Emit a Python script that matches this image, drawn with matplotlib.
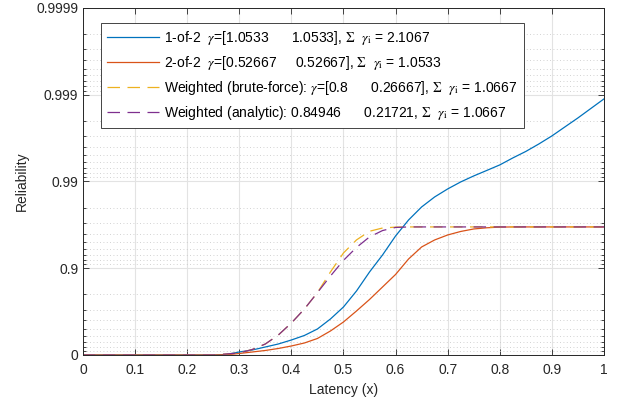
import matplotlib
matplotlib.use('Agg')
import matplotlib.pyplot as plt
from matplotlib.ticker import FixedLocator, FixedFormatter, NullFormatter
import numpy as np

plt.rcParams['font.family'] = ['Liberation Sans', 'DejaVu Sans']
plt.rcParams['mathtext.fontset'] = 'stix'

# latency grid and reliability values
latency = [0.0, 0.25, 0.275, 0.30, 0.325, 0.35, 0.375, 0.40, 0.425, 0.45, 0.475,
           0.50, 0.525, 0.55, 0.575, 0.60, 0.625, 0.65, 0.675, 0.70, 0.725,
           0.75, 0.775, 0.80, 0.825, 0.85, 0.875, 0.90, 0.925, 0.95, 0.975, 1.00]
rel_1of2 = [0.0, 0.0, 0.0132, 0.0765, 0.1243, 0.1911, 0.2534, 0.3283, 0.4043, 0.4984,
            0.6154, 0.7203, 0.8171, 0.8895, 0.92966, 0.95752, 0.97222, 0.98032, 0.98491,
            0.98780, 0.98987, 0.99136, 0.99253, 0.99355, 0.99464, 0.99549, 0.99630,
            0.99701, 0.997647, 0.998146, 0.998560, 0.998881]
rel_2of2 = [0.0, 0.0, 0.0053, 0.0390, 0.0765, 0.1128, 0.1585, 0.2125, 0.2727, 0.3546,
            0.4712, 0.5835, 0.6890, 0.7708, 0.8355, 0.8820, 0.9218, 0.9431, 0.95276,
            0.9586, 0.96229, 0.9647, 0.9658, 0.9664, 0.96656, 0.96656, 0.96656,
            0.96656, 0.96656, 0.96656, 0.96656, 0.96656]

latency_w = [0.0, 0.25, 0.275, 0.30, 0.325, 0.35, 0.375, 0.40, 0.425, 0.45, 0.475,
             0.50, 0.525, 0.55, 0.575, 0.60, 0.625, 0.70, 0.80, 0.90, 1.00]
rel_brute = [0.0, 0.0, 0.026, 0.052, 0.136, 0.253, 0.412, 0.572, 0.705, 0.809, 0.8896,
             0.9333, 0.9528, 0.9625, 0.9656, 0.9664, 0.96656, 0.96656, 0.96656, 0.96656, 0.96656]
rel_analytic = [0.0, 0.0, 0.026, 0.052, 0.136, 0.253, 0.412, 0.572, 0.705, 0.809, 0.877,
                0.9188, 0.9424, 0.9564, 0.9632, 0.9661, 0.96656, 0.96656, 0.96656, 0.96656, 0.96656]

labels = [
    r'1-of-2  $\gamma$=[1.0533      1.0533], $\Sigma$  $\gamma_{\rm i}$ = 2.1067',
    r'2-of-2  $\gamma$=[0.52667     0.52667], $\Sigma$  $\gamma_{\rm i}$ = 1.0533',
    r'Weighted (brute-force): $\gamma$=[0.8      0.26667], $\Sigma$  $\gamma_{\rm i}$ = 1.0667',
    r'Weighted (analytic): 0.84946      0.21721, $\Sigma$  $\gamma_{\rm i}$ = 1.0667',
]
y_ticks = [1, 0.1, 0.01, 0.001, 0.0001]
y_ticklabels = ['0', '0.9', '0.99', '0.999', '0.9999']
x_ticks = np.round(np.arange(0, 1.01, 0.1), 1)
x_ticklabels = ['0', '0.1', '0.2', '0.3', '0.4', '0.5', '0.6', '0.7', '0.8', '0.9', '1']

fig = plt.figure(figsize=(6.18, 4.05), dpi=100, facecolor='white')
ax = fig.add_axes([0.1343, 0.1235, 0.843, 0.857])

# "nines" scale: plot unreliability on an inverted log axis
ax.plot(latency, 1 - np.array(rel_1of2), color='#0072BD', lw=0.9)
ax.plot(latency, 1 - np.array(rel_2of2), color='#D95319', lw=0.9)
ax.plot(latency_w, 1 - np.array(rel_brute), color='#EDB120', lw=0.9, dashes=(10, 6))
ax.plot(latency_w, 1 - np.array(rel_analytic), color='#7E2F8E', lw=0.9, dashes=(10, 6))

ax.set_yscale('log')
ax.set_ylim(1, 1e-4)
ax.set_xlim(0, 1)
ax.yaxis.set_major_locator(FixedLocator(y_ticks))
ax.yaxis.set_major_formatter(FixedFormatter(y_ticklabels))
minor = [k * 10.0 ** e for e in range(-4, 0) for k in range(2, 10)]
ax.yaxis.set_minor_locator(FixedLocator(minor))
ax.yaxis.set_minor_formatter(NullFormatter())
ax.set_xticks(x_ticks)
ax.set_xticklabels(x_ticklabels)

ax.grid(True, which='major', color='#e3e3e3', lw=0.8, ls='-')
ax.grid(True, which='minor', axis='y', color='#c4c4c4', lw=0.6, ls=(0, (1, 3)))
ax.set_axisbelow(True)

for s in ax.spines.values():
    s.set_color('#262626')
    s.set_linewidth(0.7)
ax.tick_params(which='both', direction='in', top=True, right=True,
               colors='#262626', labelcolor='#262626', labelsize=10, width=0.6)
ax.tick_params(which='major', length=4)
ax.tick_params(which='minor', length=2)
ax.tick_params(axis='x', pad=6)

ax.set_xlabel('Latency (x)', fontsize=10, color='#262626', labelpad=4)
ax.set_ylabel('Reliability', fontsize=10, color='#262626', labelpad=5)

leg = ax.legend(labels, loc='upper left', bbox_to_anchor=(0.0345, 0.957),
                borderaxespad=0, fontsize=10, handlelength=3.7, labelspacing=0.5,
                fancybox=False, framealpha=1, edgecolor='#262626', borderpad=0.45,
                handletextpad=0.4)
leg.get_frame().set_linewidth(0.6)

fig.savefig('out.png', dpi=100, facecolor='white')
